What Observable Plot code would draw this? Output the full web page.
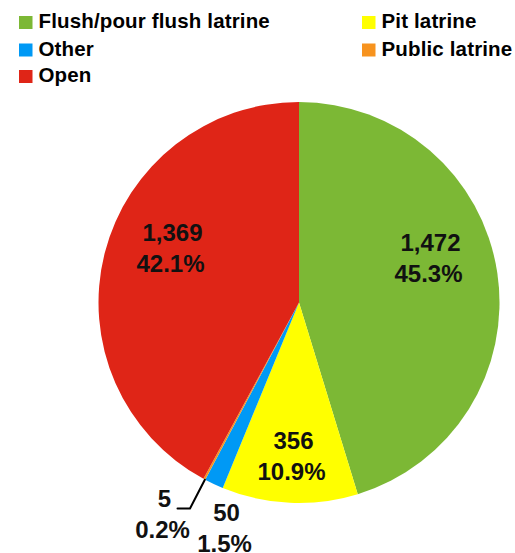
<!DOCTYPE html>
<html>
<head>
<meta charset="utf-8">
<script src="https://cdn.jsdelivr.net/npm/d3@7"></script>
<script src="https://cdn.jsdelivr.net/npm/@observablehq/plot@0.6"></script>
<style>
  html, body { margin: 0; padding: 0; background: #fff; }
  #chart svg { display: block; }
  .legend-text text { letter-spacing: 0.15px; }
</style>
</head>
<body>
<div id="chart"></div>
<script>
// ---- data ----
const categories = ["Flush/pour flush latrine", "Pit latrine", "Other", "Public latrine", "Open"];
const counts = [1472, 356, 50, 5, 1369];
const countLabels = ["1,472", "356", "50", "5", "1,369"];
const percentLabels = ["45.3%", "10.9%", "1.5%", "0.2%", "42.1%"];
const colors = ["#7cb835", "#ffff00", "#0099f5", "#f7931e", "#df2517"];

// ---- layout (pixels) ----
const W = 515, H = 553;
const center = [299, 302.5];
const radius = 200.5;
// legend grid: order and cell positions
const legendOrder = [0, 1, 2, 3, 4];
const legendCol = [0, 1, 0, 1, 0];
const legendRow = [0, 0, 1, 1, 2];
const legendColX = [19, 362];
const legendRowBaseline = [27.5, 55, 81.5];
// label anchor positions (centre x, first baseline)
const labelX = [430, 293, 226, 164, 172];
const labelBaseline = [250, 448, 520, 506, 240];
const labelLineGap = 31.5;
// leader line for the smallest slice (elbow and end)
const leaderElbow = [189.5, 508];
const leaderEnd = [177, 508];

const slices = categories.map((c, i) => ({category: c, value: counts[i], color: colors[i], i}));
const pie = d3.pie().value(d => d.value).sort(null)(slices);

const labelFont = 24;
const legendFont = 20.5;

const countRows = slices.map((d, i) => ({text: countLabels[i], x: labelX[i], y: labelBaseline[i] - 0.32 * labelFont}));
const pctRows = slices.map((d, i) => ({text: percentLabels[i], x: labelX[i] - 2, y: labelBaseline[i] + labelLineGap - 0.32 * labelFont}));

const legendRows = legendOrder.map(i => ({
  name: categories[i], color: colors[i],
  x: legendColX[legendCol[i]], base: legendRowBaseline[legendRow[i]]
}));

// leader from outer edge of the "Public latrine" slice
const small = pie[3];
const midA = (small.startAngle + small.endAngle) / 2;
const edge = [center[0] + radius * Math.sin(midA), center[1] - radius * Math.cos(midA)];
const leader = [
  {x: edge[0], y: edge[1]},
  {x: leaderElbow[0], y: leaderElbow[1]},
  {x: leaderEnd[0], y: leaderEnd[1]}
];

function pieMark(index, scales, values, dimensions, context) {
  const arc = d3.arc().innerRadius(0).outerRadius(radius);
  const g = d3.create("svg:g")
    .attr("transform", `translate(${scales.x(center[0])},${scales.y(center[1])})`);
  g.selectAll("path").data(pie).join("path")
    .attr("d", arc)
    .attr("fill", d => d.data.color);
  return g.node();
}

const chart = Plot.plot({
  width: W,
  height: H,
  margin: 0,
  x: {type: "identity", axis: null},
  y: {type: "identity", axis: null},
  style: {fontFamily: "'Liberation Sans', Arial, sans-serif", background: "#fff"},
  marks: [
    pieMark,
    Plot.line(leader, {x: "x", y: "y", stroke: "#000", strokeWidth: 2, curve: "linear"}),
    Plot.text(countRows, {x: "x", y: "y", text: "text", fontSize: labelFont, fontWeight: "bold", fill: "#111", textAnchor: "middle"}),
    Plot.text(pctRows, {x: "x", y: "y", text: "text", fontSize: labelFont, fontWeight: "bold", fill: "#111", textAnchor: "middle"}),
    Plot.rect(legendRows, {x1: d => d.x, x2: d => d.x + 13.5, y1: d => d.base - 11.5, y2: d => d.base + 1.5, fill: "color"}),
    Plot.text(legendRows, {x: d => d.x + 19, y: d => d.base - 0.32 * legendFont, text: "name", textAnchor: "start",
      fontSize: legendFont, fontWeight: "bold", fill: "#000", className: "legend-text"})
  ]
});
document.getElementById("chart").appendChild(chart);
</script>
</body>
</html>
